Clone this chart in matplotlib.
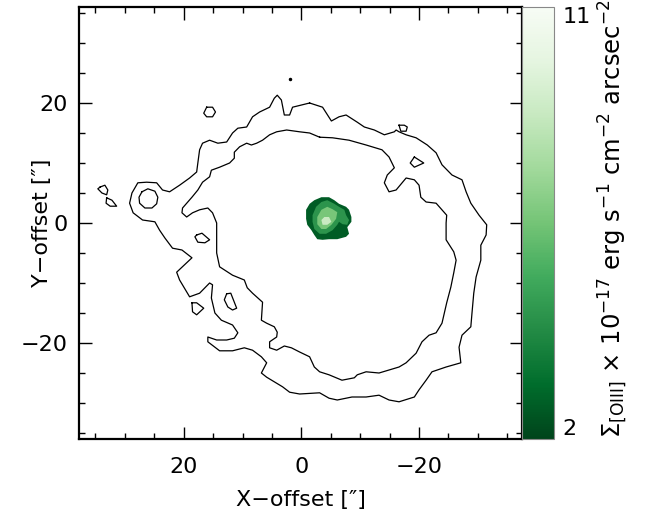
import numpy as np
import matplotlib
matplotlib.use('Agg')
import matplotlib.pyplot as plt
from matplotlib.colors import Normalize
from matplotlib.cm import ScalarMappable

plt.rcParams['font.family'] = ['DejaVu Sans']
plt.rcParams['mathtext.fontset'] = 'dejavusans'

# outer low-level [OIII] contour (arcsec offsets)
outer_x = [-1.4, 1.5, 2.0, 2.9, 3.4, 4.1, 4.6, 5.4, 7.1, 8.3, 9.3, 10.8, 11.7, 12.7, 14.2, 15.6, 16.8, 17.3,
           17.6, 17.8, 19.0, 20.7, 22.4, 23.6, 24.6, 26.3, 27.8, 28.8, 29.2, 28.6, 27.0, 24.9, 24.1, 23.2,
           21.9, 20.3, 18.6, 21.2, 20.7, 19.0, 17.3, 15.6, 15.1, 15.3, 14.7, 13.6, 11.7, 10.8, 11.4, 12.7,
           14.4, 15.9, 15.9, 13.9, 11.7, 9.7, 8.3, 6.8, 5.9, 6.8, 5.9, 3.2, 2.0, 0.3, -3.1, -4.7, -6.1, -8.6,
           -11.0, -13.2, -14.9, -16.6, -19.2, -20.0, -21.2, -22.2, -24.6, -27.1, -26.8, -27.3, -28.8, -29.0,
           -29.3, -29.7, -30.5, -30.5, -31.4, -31.5, -30.2, -28.8, -28.0, -27.3, -25.6, -23.9, -22.9, -21.4,
           -19.5, -17.8, -16.6, -16.1, -15.8, -14.1, -12.4, -10.7, -9.5, -7.6, -6.4, -5.1, -3.6]
outer_y = [20.0, 19.3, 18.0, 18.0, 20.5, 21.3, 20.8, 19.3, 18.5, 17.7, 16.0, 15.8, 15.0, 13.5, 13.3, 13.8, 13.3,
           12.2, 10.0, 8.5, 7.5, 6.3, 5.2, 5.5, 6.7, 6.8, 6.7, 5.0, 3.3, 1.7, 0.5, 0.2, -1.2, -2.5, -4.2, -4.5,
           -5.8, -8.2, -9.5, -12.3, -11.7, -10.0, -10.3, -12.5, -15.0, -16.2, -17.0, -18.3, -19.2, -19.5,
           -19.5, -19.0, -19.8, -21.3, -21.3, -20.8, -21.2, -22.3, -23.3, -25.0, -25.7, -27.3, -28.2, -28.5,
           -28.3, -29.2, -29.5, -29.0, -29.0, -28.7, -29.5, -29.8, -29.0, -27.8, -26.2, -24.8, -24.0, -23.3,
           -20.7, -18.7, -17.3, -15.0, -11.7, -9.0, -6.2, -3.7, -2.0, -0.3, 1.3, 3.3, 5.2, 7.2, 8.0, 9.7,
           11.7, 13.0, 14.2, 14.7, 15.2, 15.5, 15.2, 14.7, 15.5, 16.0, 16.8, 18.0, 17.7, 17.0, 19.3]

# inner contour
inner_x = [-3.1, -1.4, 0.3, 2.5, 4.2, 5.4, 6.6, 7.6, 8.5, 9.3, 10.5, 11.4, 11.4, 12.2, 13.9, 15.3, 15.6, 16.8,
           17.6, 18.6, 20.2, 20.3, 19.5, 18.5, 17.3, 15.9, 15.1, 14.4, 14.4, 14.4, 13.9, 11.7, 9.7, 9.2, 8.3,
           6.6, 6.8, 5.9, 4.6, 4.1, 4.2, 5.4, 5.4, 4.2, 2.9, 1.7, 0.3, -1.4, -2.2, -3.1, -4.7, -6.9, -9.0,
           -9.5, -11.0, -13.2, -14.9, -16.6, -17.8, -19.5, -20.5, -21.7, -22.9, -23.9, -24.7, -25.4, -25.9,
           -26.3, -25.9, -24.6, -24.6, -24.7, -22.9, -21.2, -20.3, -20.0, -19.2, -17.8, -16.1, -14.9, -14.1,
           -14.6, -15.8, -14.9, -13.7, -11.0, -8.1, -5.3]
inner_y = [14.3, 15.0, 15.2, 15.5, 15.2, 14.7, 13.8, 13.3, 13.0, 13.3, 12.7, 11.8, 10.8, 10.0, 9.3, 8.8, 7.7,
           6.8, 5.5, 4.3, 2.5, 1.7, 1.0, 1.7, 2.2, 2.5, 1.7, 0.0, -2.3, -5.0, -7.3, -8.7, -9.5, -10.8, -11.7,
           -13.2, -16.2, -16.7, -17.3, -18.2, -19.0, -19.8, -20.8, -21.2, -20.5, -20.8, -21.5, -22.3, -24.0,
           -24.8, -25.3, -26.2, -25.8, -25.3, -24.8, -25.0, -24.5, -24.0, -23.3, -21.7, -19.8, -18.7, -18.3,
           -16.7, -13.3, -10.7, -8.3, -6.2, -4.8, -2.8, 0.0, 1.3, 3.3, 3.5, 4.3, 6.3, 7.2, 7.5, 5.5, 5.2,
           6.7, 8.0, 9.2, 11.0, 12.2, 13.0, 13.8, 14.2]

# small isolated contour islands
island_a_x = [16.1, 15.1, 14.6, 15.1, 16.1, 16.6]
island_a_y = [19.3, 19.3, 18.5, 17.7, 17.7, 18.3]
island_b_x = [27.1, 26.1, 24.9, 24.4, 24.6, 25.4, 26.6, 27.5, 27.6]
island_b_y = [5.2, 5.7, 5.3, 4.3, 3.2, 2.5, 2.5, 3.3, 4.3]
island_c_x = [34.2, 33.4, 32.9, 33.1, 33.9, 34.6]
island_c_y = [6.0, 6.3, 5.5, 4.7, 5.0, 5.7]
island_d_x = [33.1, 32.2, 31.4, 32.5, 33.2]
island_d_y = [4.2, 3.8, 2.8, 2.8, 3.3]
island_e_x = [17.8, 16.9, 15.6, 16.4, 17.6, 18.1]
island_e_y = [-2.0, -1.7, -2.8, -3.3, -3.2, -2.3]
island_f_x = [12.7, 12.0, 11.4, 11.0, 11.7, 12.5, 13.1]
island_f_y = [-11.8, -11.7, -13.2, -14.2, -14.5, -14.0, -12.8]
island_g_x = [18.6, 17.8, 16.6, 17.8, 18.5]
island_g_y = [-13.3, -13.3, -14.2, -15.3, -14.8]
island_h_x = [-16.6, -17.5, -18.0, -17.8, -16.9]
island_h_y = [16.3, 16.3, 16.0, 15.3, 15.3]
island_i_x = [-19.2, -20.8, -19.2, -18.5]
island_i_y = [11.0, 10.0, 9.3, 10.0]
dot_x = [2.0]
dot_y = [24.0]

# central bright region, filled levels (surface brightness)
blob1_x = [-0.8, -1.4, -2.2, -3.4, -4.7, -5.6, -6.4, -7.6, -8.1, -8.5, -8.5, -7.8, -8.1, -7.6, -6.1, -4.7,
           -3.6, -2.7, -2.2, -1.7, -1.0, -0.8]
blob1_y = [2.2, 3.2, 3.8, 4.3, 4.3, 3.8, 3.2, 2.7, 2.2, 1.0, 0.2, -0.7, -1.8, -2.3, -2.7, -2.7, -2.8, -2.7,
           -2.0, -1.2, -0.3, 0.7]
blob2_x = [-1.9, -2.5, -3.4, -4.4, -5.6, -6.4, -7.3, -7.6, -8.1, -7.8, -7.0, -6.4, -6.1, -5.3, -4.2, -3.1,
           -2.2, -1.9]
blob2_y = [1.3, 2.7, 3.5, 3.8, 3.2, 2.7, 2.2, 1.3, 0.5, -0.3, -0.2, 0.2, -0.3, -1.2, -1.8, -1.8, -1.0, 0.2]
blob3_x = [-2.7, -3.4, -4.4, -5.3, -6.1, -5.9, -5.1, -4.2, -3.4, -2.7]
blob3_y = [1.0, 2.2, 2.7, 2.3, 1.8, 0.7, -0.3, -1.0, -1.0, -0.2]
blob4_x = [-3.4, -3.9, -4.7, -5.1, -4.4, -3.6]
blob4_y = [0.5, 1.0, 1.0, 0.2, -0.3, -0.3]
blob_levels = [2.7, 4.6, 6.6, 8.8]

vmin, vmax = 2, 11

fig = plt.figure(figsize=(6.48, 5.22), dpi=100)
ax = fig.add_axes([79 / 648, 1 - 439 / 522, 443 / 648, 432 / 522])
cax = fig.add_axes([522 / 648, 1 - 439 / 522, 32 / 648, 432 / 522])

cmap = plt.get_cmap('Greens_r')
norm = Normalize(vmin=vmin, vmax=vmax)


def closed(xs, ys):
    return np.append(xs, xs[0]), np.append(ys, ys[0])


blobs = [(blob1_x, blob1_y), (blob2_x, blob2_y), (blob3_x, blob3_y), (blob4_x, blob4_y)]
for (bx, by), lev in zip(blobs, blob_levels):
    ax.fill(bx, by, color=cmap(norm(lev)), lw=0)

loops = [(outer_x, outer_y), (inner_x, inner_y), (island_a_x, island_a_y), (island_b_x, island_b_y),
         (island_c_x, island_c_y), (island_d_x, island_d_y), (island_e_x, island_e_y),
         (island_f_x, island_f_y), (island_g_x, island_g_y), (island_h_x, island_h_y),
         (island_i_x, island_i_y)]
for lx, ly in loops:
    cx, cy = closed(lx, ly)
    ax.plot(cx, cy, color='black', lw=0.9)
ax.plot(dot_x, dot_y, 'o', color='black', ms=1.5)

fs = 16
ax.set_xlim(37.8, -37.5)
ax.set_ylim(-36, 36)
ax.set_xticks([20, 0, -20])
ax.set_yticks([20, 0, -20])
ax.set_xticks(np.arange(35, -36, -5), minor=True)
ax.set_yticks(np.arange(-35, 36, 5), minor=True)
ax.tick_params(which='both', direction='in', top=True, right=True, width=1, labelsize=fs)
ax.tick_params(which='major', length=9)
ax.tick_params(which='minor', length=4.5)
ax.tick_params(axis='x', pad=13)
ax.tick_params(axis='y', pad=8)
for s in ax.spines.values():
    s.set_linewidth(1.6)
ax.set_xlabel('X\u2212offset [\u2033]', fontsize=fs)
ax.set_ylabel('Y\u2212offset [\u2033]', fontsize=fs)
ax.xaxis.set_label_coords(0.5, -0.118)
ax.yaxis.set_label_coords(-0.062, 0.5)

cb = fig.colorbar(ScalarMappable(norm=norm, cmap=cmap), cax=cax)
cb.set_ticks([2, 11])
cb.set_ticklabels(['2', '11'])
cb.ax.tick_params(length=0, labelsize=fs, pad=6)
tl = cb.ax.get_yticklabels()
tl[0].set_va('bottom')
tl[1].set_va('top')
cb.outline.set_edgecolor('#888888')
cb.outline.set_linewidth(0.8)
cb.set_label('$\\Sigma_{\\rm [OIII]}$ \u00d7 10$^{-17}$ erg s$^{-1}$ cm$^{-2}$ arcsec$^{-2}$',
             fontsize=17.5)
cb.ax.yaxis.set_label_coords(2.35, 0.51)

fig.savefig('out.png', dpi=100)
